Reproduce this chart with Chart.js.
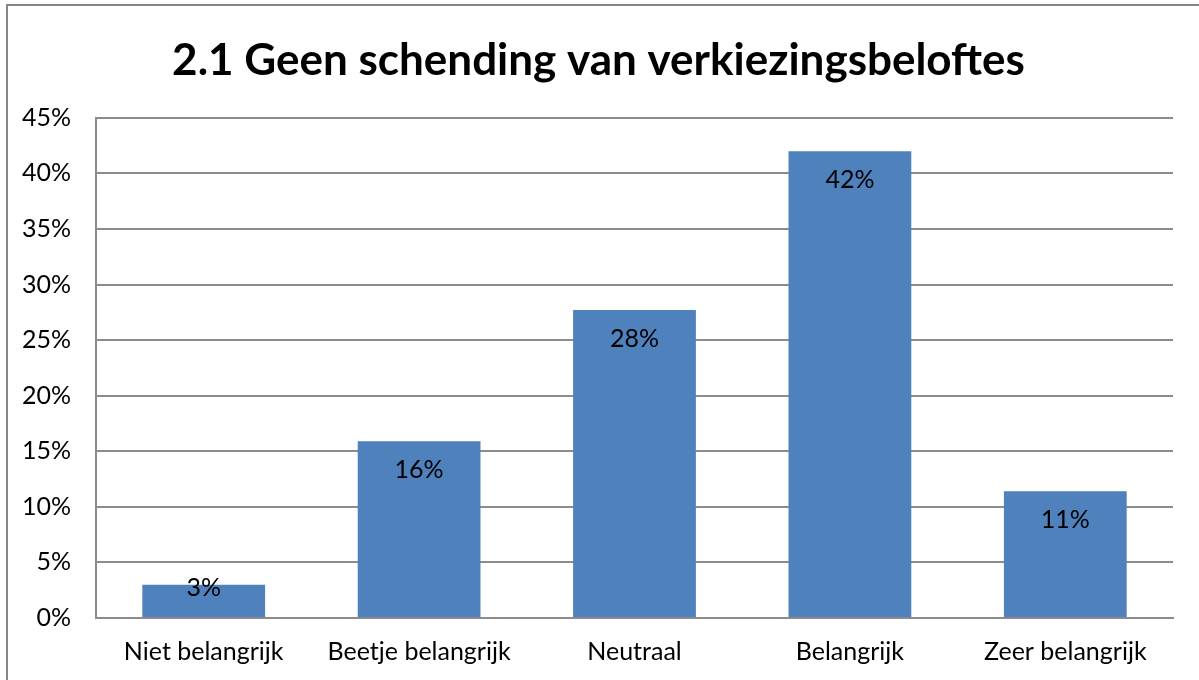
<!DOCTYPE html>
<html>
<head>
<meta charset="utf-8">
<script src="https://cdn.jsdelivr.net/npm/chart.js@4.4.1/dist/chart.umd.min.js"></script>
<style>
  html, body { margin: 0; padding: 0; background: #fff; overflow: hidden; }
  #frame {
    position: absolute; left: 6px; top: 4px; width: 1300px; height: 800px;
    border-left: 2px solid #868686; border-top: 2px solid #868686;
  }
  #myChart { position: absolute; left: 0; top: 0; }
</style>
</head>
<body>
<div id="frame"></div>
<canvas id="myChart" width="1199" height="680"></canvas>
<script>
// donnees
const categories = ["Niet belangrijk", "Beetje belangrijk", "Neutraal", "Belangrijk", "Zeer belangrijk"];
const percentages = [3.0, 15.9, 27.7, 42.0, 11.4];
const yTicks = [0, 5, 10, 15, 20, 25, 30, 35, 40, 45];
const chartTitle = "2.1 Geen schending van verkiezingsbeloftes";

const fontFamily = "Lato, 'Open Sans', sans-serif";
const gridColor = "#8c8c8c";

// etiquettes dans les barres
const barLabels = {
  id: "barLabels",
  afterDatasetsDraw(chart) {
    const ctx = chart.ctx;
    const meta = chart.getDatasetMeta(0);
    ctx.save();
    ctx.font = "25px " + fontFamily;
    ctx.fillStyle = "#000";
    ctx.textAlign = "center";
    ctx.textBaseline = "middle";
    meta.data.forEach((bar, i) => {
      let y = Math.min(bar.y + 29, bar.base - 29);
      ctx.fillText(Math.round(percentages[i]) + "%", bar.x, y);
    });
    ctx.restore();
  },
};

const config = {
  type: "bar",
  data: {
    labels: categories,
    datasets: [
      {
        data: percentages,
        backgroundColor: "#4f81bd",
        borderWidth: 0,
        categoryPercentage: 1,
        barPercentage: 0.57,
      },
    ],
  },
  options: {
    responsive: false,
    animation: false,
    layout: {
      padding: { left: 8, right: 10, top: 0, bottom: 16 },
    },
    plugins: {
      legend: { display: false },
      tooltip: { enabled: false },
      title: {
        display: true,
        text: chartTitle,
        color: "#000",
        font: { family: fontFamily, size: 44, weight: "bold", lineHeight: 1.2 },
        padding: { top: 34, bottom: 31 },
      },
    },
    scales: {
      x: {
        afterFit(scale) {
          scale.height = 46;
        },
        grid: { display: false, drawTicks: false },
        border: { display: true, color: gridColor, width: 2 },
        ticks: {
          color: "#000",
          font: { family: fontFamily, size: 25 },
          padding: 19,
          maxRotation: 0,
          autoSkip: false,
        },
      },
      y: {
        min: 0,
        max: 45,
        afterFit(scale) {
          scale.width = 88;
        },
        afterBuildTicks(scale) {
          scale.ticks = yTicks.map((v) => ({ value: v }));
        },
        grid: { color: gridColor, lineWidth: 2, drawTicks: false },
        border: { display: true, color: gridColor, width: 2 },
        ticks: {
          color: "#000",
          font: { family: fontFamily, size: 25 },
          padding: 25,
          callback: (v) => v + "%",
        },
      },
      // marge droite vide (pas de graduations)
      yRight: {
        position: "right",
        min: 0,
        max: 45,
        afterFit(scale) {
          scale.width = 16;
        },
        grid: { display: false, drawTicks: false },
        border: { display: false },
        ticks: { display: false },
      },
    },
  },
  plugins: [barLabels],
};

let context = document.getElementById("myChart").getContext("2d");
let chart = new Chart(context, config);
</script>
</body>
</html>
